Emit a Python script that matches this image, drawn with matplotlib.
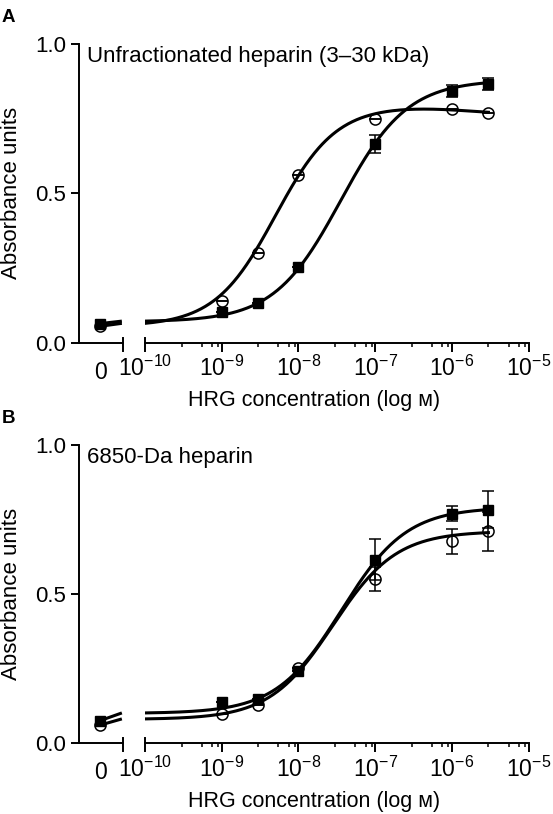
import matplotlib.pyplot as plt
import matplotlib.ticker as mticker
import numpy as np

plt.rcParams['font.family'] = ['Liberation Sans', 'DejaVu Sans']
plt.rcParams['mathtext.fontset'] = 'custom'
plt.rcParams['mathtext.rm'] = 'Liberation Sans'
plt.rcParams['mathtext.it'] = 'Liberation Sans:italic'
plt.rcParams['mathtext.bf'] = 'Liberation Sans:bold'

# HRG concentrations (M); the "0" point sits on its own axis segment
conc = [1e-9, 3e-9, 1e-8, 1e-7, 1e-6, 3e-6]

# panel A: unfractionated heparin
a_sq_zero = 0.064
a_sq = [0.103, 0.133, 0.254, 0.665, 0.844, 0.865]
a_sq_err = [0, 0, 0, 0.03, 0.02, 0.02]
a_ci_zero = 0.055
a_ci = [0.14, 0.30, 0.563, 0.749, 0.784, 0.768]
a_ci_err = [0, 0, 0, 0, 0, 0]

# panel B: 6850-Da heparin
b_sq_zero = 0.076
b_sq = [0.139, 0.147, 0.243, 0.615, 0.768, 0.782]
b_sq_err = [0, 0, 0, 0.068, 0.025, 0.062]
b_ci_zero = 0.061
b_ci = [0.097, 0.128, 0.253, 0.55, 0.676, 0.71]
b_ci_err = [0, 0, 0, 0.039, 0.043, 0.065]

# fitted dose-response curves: bottom, top, logEC50, hill slope
a_sq_fit = [0.07, 0.88, -7.45, 1.0]
a_ci_fit = [0.055, 0.795, -8.3, 1.1]
a_ci_fall = [0.035, -5.8, 1.0]   # drop, logEC50, hill of the falling phase
b_sq_fit = [0.10, 0.79, -7.44, 1.02]
b_ci_fit = [0.08, 0.71, -7.55, 1.05]

panel_titles = ['Unfractionated heparin (3\u201330 kDa)', '6850-Da heparin']
panel_letters = ['A', 'B']


def logistic(x, bottom, top, logec, hill):
    return bottom + (top - bottom) / (1 + 10 ** ((logec - x) * hill))


def fall(x, drop, logec, hill):
    return drop / (1 + 10 ** ((logec - x) * hill))


W, H = 553, 814
fig = plt.figure(figsize=(W / 100, H / 100), dpi=100)

xs = np.linspace(-10, np.log10(conc[-1]), 400)
curves_a = [logistic(xs, *a_sq_fit), logistic(xs, *a_ci_fit) - fall(xs, *a_ci_fall)]
curves_b = [logistic(xs, *b_sq_fit), logistic(xs, *b_ci_fit)]

panels = [
    (342.7, [(a_sq_zero, a_sq, a_sq_err), (a_ci_zero, a_ci, a_ci_err)], curves_a),
    (743.3, [(b_sq_zero, b_sq, b_sq_err), (b_ci_zero, b_ci, b_ci_err)], curves_b),
]
span = 298.7
lw_axis = 1.4
styles = [dict(marker='s', ms=7.5, mfc='black', mec='black'),
          dict(marker='o', ms=8, mfc='none', mec='black', mew=1.1)]

for p, (y0px, series, curves) in enumerate(panels):
    bottom = 1 - y0px / H
    height = span / H
    ax0 = fig.add_axes([79 / W, bottom, (123 - 79) / W, height])
    ax1 = fig.add_axes([145 / W, bottom, (528.5 - 145) / W, height])
    ax0.patch.set_visible(False)
    ax1.patch.set_visible(False)

    # left segment: the zero concentration
    ax0.set_xlim(-0.93, 1)
    ax0.set_ylim(0, 1)
    for sp in ['top', 'right']:
        ax0.spines[sp].set_visible(False)
    for sp in ['left', 'bottom']:
        ax0.spines[sp].set_linewidth(lw_axis)
    ax0.set_yticks([0, 0.5, 1.0])
    ax0.set_yticklabels(['0.0', '0.5', '1.0'])
    ax0.set_xticks([0])
    ax0.set_xticklabels(['0'])
    ax0.tick_params(axis='y', length=6, width=lw_axis, labelsize=16, pad=3)
    ax0.tick_params(axis='x', length=0, labelsize=16.5, pad=13)
    ax0.plot([1, 1], [-0.027, 0.017], color='black', lw=lw_axis,
             transform=ax0.transAxes, clip_on=False)

    # right segment: log concentration
    ax1.set_xscale('log')
    ax1.set_xlim(1e-10, 1e-5)
    ax1.set_ylim(0, 1)
    for sp in ['top', 'right', 'left']:
        ax1.spines[sp].set_visible(False)
    ax1.spines['bottom'].set_linewidth(lw_axis)
    ax1.set_yticks([])
    ax1.xaxis.set_major_locator(mticker.LogLocator(base=10, numticks=10))
    ax1.xaxis.set_minor_locator(mticker.LogLocator(base=10, subs=[3, 5.5, 7.5, 9], numticks=10))
    ax1.xaxis.set_minor_formatter(mticker.NullFormatter())
    ax1.xaxis.set_major_formatter(mticker.FuncFormatter(
        lambda v, pos: r'$\mathregular{10^{%d}}$' % round(np.log10(v))))
    ax1.tick_params(axis='x', which='major', length=6.5, width=lw_axis, labelsize=16.5, pad=3)
    ax1.tick_params(axis='x', which='minor', length=3.2, width=1.1)
    ax1.plot([0, 0], [0, 0.017], color='black', lw=lw_axis,
             transform=ax1.transAxes, clip_on=False)

    for (zero, vals, errs), curve, st in zip(series, curves, styles):
        # curve stub on the zero segment, then the fitted curve
        ax0.plot([0, 0.95], [zero, curve[0]], color='black', lw=2.2, solid_capstyle='butt')
        ax0.plot([0], [zero], linestyle='none', **st, clip_on=False, zorder=4)
        ax1.plot(10 ** xs, curve, color='black', lw=2.2, zorder=2)
        ax1.errorbar(conc, vals, yerr=errs, fmt='none', ecolor='black',
                     elinewidth=1.1, capsize=4, capthick=1.1, zorder=3)
        ax1.plot(conc, vals, linestyle='none', **st, zorder=4, clip_on=False)

    ax0.text(0.18, 0.94, panel_titles[p], transform=ax0.transAxes,
             fontsize=16, ha='left', va='baseline')

    fig.text(314 / W, 1 - (y0px + 58) / H, 'HRG concentration (log \u1d0d)',
             fontsize=15.5, ha='center', va='center')
    fig.text(12 / W, 1 - (y0px - span / 2) / H, 'Absorbance units',
             fontsize=16, rotation=90, ha='center', va='center')
    fig.text(2 / W, 1 - (y0px - 320.7) / H, panel_letters[p],
             fontsize=13.5, fontweight='bold', ha='left', va='baseline')

fig.savefig('out.png', dpi=100)
